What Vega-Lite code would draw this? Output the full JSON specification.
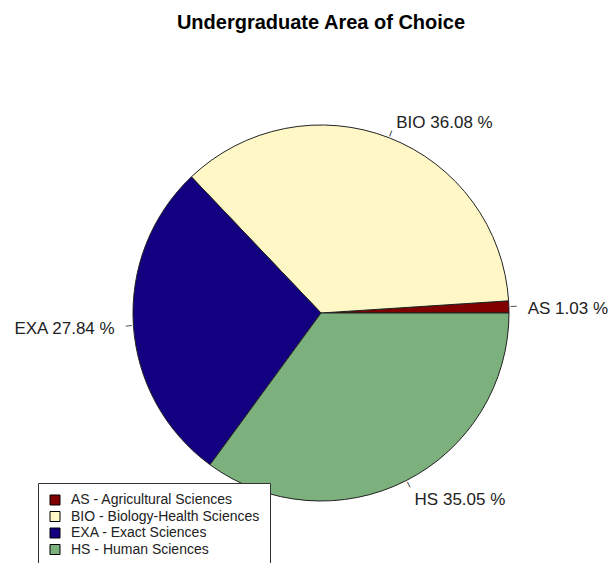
{
  "$schema": "https://vega.github.io/schema/vega-lite/v6.json",
  "autosize": "none",
  "width": 578,
  "height": 500,
  "padding": {"left": 32, "top": 63, "right": 0, "bottom": 0},
  "background": "white",
  "title": {"text": "Undergraduate Area of Choice", "fontSize": 20, "fontWeight": "bold", "font": "Liberation Sans", "color": "black", "anchor": "middle", "baseline": "alphabetic", "offset": 14},
  "config": {"view": {"stroke": null}},
  "data": {"values": [
    {"area": "AS", "name": "AS - Agricultural Sciences", "pct": 1.03, "label": "AS 1.03 %"},
    {"area": "BIO", "name": "BIO - Biology-Health Sciences", "pct": 36.08, "label": "BIO 36.08 %"},
    {"area": "EXA", "name": "EXA - Exact Sciences", "pct": 27.84, "label": "EXA 27.84 %"},
    {"area": "HS", "name": "HS - Human Sciences", "pct": 35.05, "label": "HS 35.05 %"}
  ]},
  "encoding": {
    "theta": {"field": "pct", "type": "quantitative", "stack": true, "scale": {"range": [1.5707963, -4.712389]}}
  },
  "layer": [
    {
      "mark": {"type": "arc", "outerRadius": 188, "stroke": "#222222", "strokeWidth": 1},
      "encoding": {
        "color": {
          "field": "name", "type": "nominal",
          "scale": {
            "domain": ["AS - Agricultural Sciences", "BIO - Biology-Health Sciences", "EXA - Exact Sciences", "HS - Human Sciences"],
            "range": ["#800000", "#FFF8C6", "#120080", "#7CB07D"]
          },
          "legend": {
            "title": null, "orient": "none", "legendX": 6, "legendY": 420,
            "symbolType": "square", "symbolSize": 100, "symbolStrokeColor": "black", "symbolStrokeWidth": 1,
            "labelFontSize": 14, "labelFont": "Liberation Sans", "labelColor": "#222222", "labelOffset": 9,
            "rowPadding": 2.5, "padding": 10, "strokeColor": "#333333", "fillColor": "white", "labelLimit": 400
          }
        }
      }
    },
    {
      "mark": {"type": "text", "radius": 206.8, "fontSize": 17, "font": "Liberation Sans", "color": "#222222", "baseline": "middle", "dy": 3,
               "align": {"expr": "datum.area === 'EXA' ? 'right' : 'left'"}},
      "encoding": {"text": {"field": "label"}}
    },
    {
      "mark": {"type": "text", "radius": 192.7, "fontSize": 10, "font": "DejaVu Sans", "color": "#222222", "baseline": "middle", "align": "center", "text": "─",
               "angle": {"expr": "-(datum.pct_start + datum.pct_end) * 1.8"}},
      "encoding": {}
    }
  ]
}
